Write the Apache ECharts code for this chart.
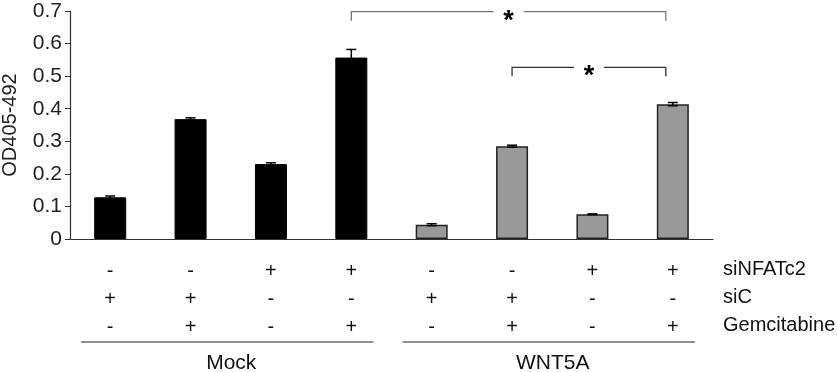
<!DOCTYPE html>
<html>
<head>
<meta charset="utf-8">
<script src="https://cdn.jsdelivr.net/npm/echarts@6/dist/echarts.min.js"></script>
<style>
  html, body { margin: 0; padding: 0; background: #fff; }
  #chart { width: 837px; height: 372px; }
</style>
</head>
<body>
<div id="chart"></div>
<script>
  // bar values and errors
  var categories = ['1', '2', '3', '4', '5', '6', '7', '8']
  var values = [0.128, 0.368, 0.230, 0.557, 0.044, 0.285, 0.076, 0.414]
  var errors = [0.004, 0.004, 0.004, 0.025, 0.003, 0.003, 0.001, 0.005]

  // treatment table under the axis
  var siNFATc2 = ['-', '-', '+', '+', '-', '-', '+', '+']
  var siC = ['+', '+', '-', '-', '+', '+', '-', '-']
  var gemcitabine = ['-', '+', '-', '+', '-', '+', '-', '+']
  var rowNames = ['siNFATc2', 'siC', 'Gemcitabine']

  // groups: [first index, last index, name]
  var groups = [[0, 3, 'Mock'], [4, 7, 'WNT5A']]
  // significance brackets: [from index, to index, y value]
  var brackets = [[3, 7, 0.698], [5, 7, 0.527]]

  var font = 'Liberation Sans, Arial, sans-serif'

  var chart = echarts.init(document.getElementById('chart'))

  var barData = values.map(function (v, i) {
    return {
      value: v,
      itemStyle: i < 4
        ? { color: '#000', borderColor: '#000', borderWidth: 1 }
        : { color: '#999', borderColor: '#222', borderWidth: 1.5 }
    }
  })

  var option = {
    animation: false,
    grid: { left: 70, right: 124, top: 11, bottom: 133, containLabel: false, outerBoundsMode: 'none' },
    xAxis: {
      type: 'category',
      data: categories,
      axisLine: { lineStyle: { color: '#333', width: 1.2 } },
      axisTick: { length: 5, lineStyle: { color: '#333' } },
      axisLabel: {
        margin: 18,
        fontFamily: font,
        fontSize: 20,
        lineHeight: 28,
        color: '#111',
        formatter: function (v, i) {
          return [siNFATc2[i], siC[i], gemcitabine[i]].join('\n')
        }
      }
    },
    yAxis: {
      type: 'value',
      min: 0,
      max: 0.7,
      interval: 0.1,
      name: 'OD405-492',
      nameLocation: 'middle',
      nameGap: 50,
      nameTextStyle: { fontFamily: font, fontSize: 20, color: '#222' },
      axisLine: { show: true, lineStyle: { color: '#333', width: 1.2 } },
      axisTick: { show: true, length: 5, lineStyle: { color: '#333' } },
      splitLine: { show: false },
      axisLabel: { fontFamily: font, fontSize: 21, color: '#222', margin: 8 }
    },
    series: [
      {
        type: 'bar',
        barWidth: 32,
        data: barData
      },
      {
        // error bars
        type: 'custom',
        data: values.map(function (v, i) { return [i, v, errors[i]] }),
        renderItem: function (params, api) {
          var top = api.coord([api.value(0), api.value(1) + api.value(2)])
          var bot = api.coord([api.value(0), api.value(1) - api.value(2)])
          var style = { stroke: '#000', lineWidth: 1.5 }
          return {
            type: 'group',
            children: [
              { type: 'line', shape: { x1: top[0], y1: top[1], x2: bot[0], y2: bot[1] }, style: style },
              { type: 'line', shape: { x1: top[0] - 5, y1: top[1], x2: top[0] + 5, y2: top[1] }, style: style },
              { type: 'line', shape: { x1: bot[0] - 5, y1: bot[1], x2: bot[0] + 5, y2: bot[1] }, style: style }
            ]
          }
        },
        z: 3
      },
      {
        // significance brackets
        type: 'custom',
        clip: false,
        data: brackets,
        renderItem: function (params, api) {
          var a = api.coord([api.value(0), api.value(2)])
          var b = api.coord([api.value(1), api.value(2)])
          b[0] -= 7
          var mid = (a[0] + b[0]) / 2
          var gap = 15
          var color = params.dataIndex === 0 ? '#777' : '#333'
          var style = { stroke: color, lineWidth: 1.3, fill: 'none' }
          return {
            type: 'group',
            children: [
              { type: 'polyline', shape: { points: [[a[0], a[1] + 9], [a[0], a[1]], [mid - gap, a[1]]] }, style: style },
              { type: 'polyline', shape: { points: [[mid + gap, a[1]], [b[0], a[1]], [b[0], a[1] + 9]] }, style: style },
              {
                type: 'text',
                style: {
                  text: '*', x: mid, y: a[1] - 4,
                  fill: '#000', font: 'bold 27px ' + font,
                  textAlign: 'center', textVerticalAlign: 'top'
                }
              }
            ]
          }
        }
      },
      {
        // group underlines and names
        type: 'custom',
        clip: false,
        data: groups,
        renderItem: function (params, api) {
          var w = api.size([1, 0])[0]
          var a = api.coord([api.value(0), 0])
          var b = api.coord([api.value(1), 0])
          var x1 = a[0] - w / 2 + 11
          var x2 = b[0] + w / 2 - 18
          var y = a[1] + 103
          return {
            type: 'group',
            children: [
              { type: 'line', shape: { x1: x1, y1: y, x2: x2, y2: y }, style: { stroke: '#222', lineWidth: 1.2 } },
              {
                type: 'text',
                style: {
                  text: groups[params.dataIndex][2], x: (x1 + x2) / 2 + 4, y: y + 21,
                  fill: '#111', font: '21px ' + font,
                  textAlign: 'center', textVerticalAlign: 'middle'
                }
              }
            ]
          }
        }
      }
    ],
    graphic: rowNames.map(function (name, i) {
      return {
        type: 'text',
        left: 723,
        top: 259 + i * 28,
        style: { text: name, fill: '#111', font: '20px ' + font }
      }
    })
  }

  chart.setOption(option)
</script>
</body>
</html>
